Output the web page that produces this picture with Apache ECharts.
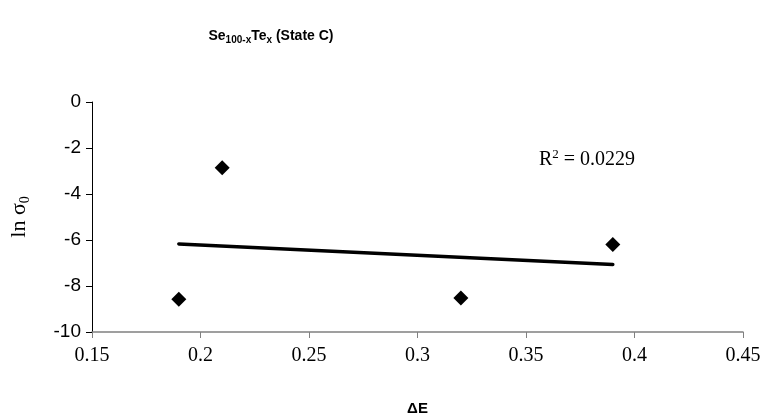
<!DOCTYPE html>
<html>
<head>
<meta charset="utf-8">
<script src="https://cdn.jsdelivr.net/npm/echarts@6/dist/echarts.min.js"></script>
<style>
    html, body { margin: 0; padding: 0; background: #fff; }
    #chart { width: 776px; height: 418px; }
</style>
</head>
<body>
<div id="chart"></div>
<script>
// data
var deltaE = [0.19, 0.21, 0.32, 0.39];
var lnSigma0 = [-8.58, -2.86, -8.52, -6.2];
// linear trendline ends
var trendX = [0.19, 0.39];
var trendY = [-6.17, -7.06];
var xTicks = [0.15, 0.2, 0.25, 0.3, 0.35, 0.4, 0.45];
var yTicks = [0, -2, -4, -6, -8, -10];
var r2Text = '0.0229';

var myChart = echarts.init(document.getElementById('chart'));

var option = {
    backgroundColor: '#fff',
    animation: false,
    title: {
        text: '{b|Se}{s|100-x}{b|Te}{s|x}{b| (State C)}',
        left: 266,
        top: 22,
        textAlign: 'center',
        textStyle: {
            rich: {
                b: { fontFamily: 'Liberation Sans', fontWeight: 'bold', fontSize: 14, color: '#000' },
                s: { fontFamily: 'Liberation Sans', fontWeight: 'bold', fontSize: 10, color: '#000', verticalAlign: 'bottom', padding: [8, 0, 0, 0] }
            }
        }
    },
    grid: { left: 92, right: 33, top: 102, bottom: 86, outerBoundsMode: 'none', containLabel: false },
    xAxis: {
        type: 'value',
        min: 0.15,
        max: 0.45,
        interval: 0.05,
        name: 'ΔE',
        nameLocation: 'middle',
        nameGap: 69,
        nameTextStyle: { fontFamily: 'Liberation Sans', fontWeight: 'bold', fontSize: 15, color: '#000' },
        axisLine: { show: true, onZero: false, lineStyle: { color: '#808080', width: 1.5 } },
        axisTick: { show: true, inside: false, length: 6, lineStyle: { color: '#808080' } },
        splitLine: { show: false },
        axisLabel: {
            margin: 14,
            fontFamily: 'Liberation Serif',
            fontSize: 20,
            color: '#000',
            formatter: function (v) {
                var hit = xTicks.find(function (t) { return Math.abs(t - v) < 1e-9; });
                return hit === undefined ? '' : String(hit);
            }
        }
    },
    yAxis: {
        type: 'value',
        min: -10,
        max: 0,
        interval: 2,
        name: '{n|ln σ}{s|0}',
        nameLocation: 'middle',
        nameRotate: 90,
        nameGap: 60,
        nameTextStyle: {
            rich: {
                n: { fontFamily: 'Liberation Serif', fontSize: 22, color: '#000' },
                s: { fontFamily: 'Liberation Serif', fontSize: 14, color: '#000', verticalAlign: 'bottom', padding: [12, 0, 0, 0] }
            }
        },
        axisLine: { show: true, onZero: false, lineStyle: { color: '#000', width: 1 } },
        axisTick: { show: true, inside: false, length: 6, lineStyle: { color: '#000' } },
        splitLine: { show: false },
        axisLabel: {
            margin: 11,
            fontFamily: 'Liberation Sans',
            fontSize: 19,
            color: '#000',
            formatter: function (v) {
                return yTicks.indexOf(v) >= 0 ? String(v) : '';
            }
        }
    },
    series: [
        {
            type: 'line',
            data: trendX.map(function (x, i) { return [x, trendY[i]]; }),
            showSymbol: false,
            symbol: 'none',
            lineStyle: { color: '#000', width: 3.5, cap: 'round' },
            z: 2
        },
        {
            type: 'scatter',
            data: deltaE.map(function (x, i) { return [x, lnSigma0[i]]; }),
            symbol: 'diamond',
            symbolSize: [15, 15],
            itemStyle: { color: '#000', opacity: 1 },
            z: 3
        }
    ],
    graphic: [
        {
            type: 'text',
            left: 539,
            top: 148,
            style: {
                text: '{r|R}{p|2}{r| = ' + r2Text + '}',
                rich: {
                    r: { fontFamily: 'Liberation Serif', fontSize: 20, color: '#000' },
                    p: { fontFamily: 'Liberation Serif', fontSize: 13, color: '#000', verticalAlign: 'top', padding: [0, 0, 10, 0] }
                }
            }
        }
    ]
};

myChart.setOption(option);
</script>
</body>
</html>
